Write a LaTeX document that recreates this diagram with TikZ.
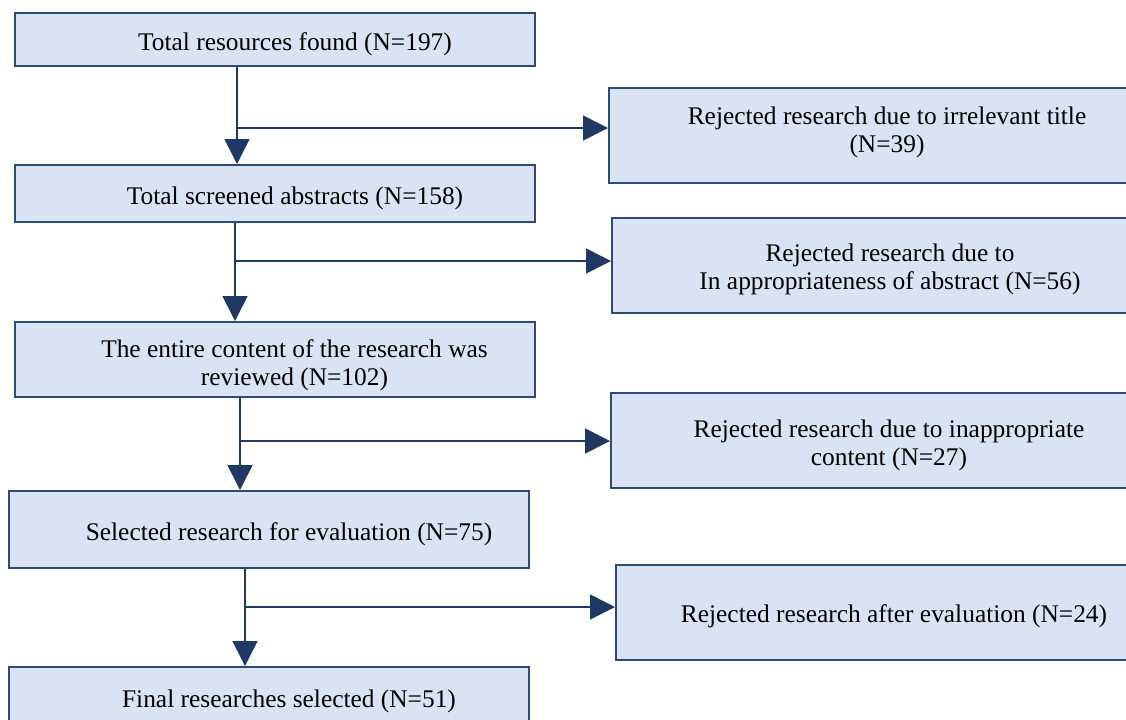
\documentclass[tikz,border=0pt]{standalone}
\usepackage{fontspec}
\setmainfont{Liberation Serif}
\usetikzlibrary{arrows.meta}
\definecolor{boxfill}{HTML}{DAE3F3}
\definecolor{boxline}{HTML}{2F4A78}
\definecolor{navy}{HTML}{1F3864}

\begin{document}
\begin{tikzpicture}[x=0.5pt,y=-0.5pt,
    stage/.style={draw=boxline, line width=1pt, fill=boxfill, align=center,
      font=\fontsize{12.7}{14}\selectfont, inner sep=0pt,
      execute at begin node={\rule{0pt}{13.5pt}}},
    mainstage/.style={stage, minimum width=260pt,
      execute at begin node={\rule{0pt}{13.5pt}\hspace*{20pt}}},
    reject/.style={stage, minimum width=278pt, minimum height=47.5pt},
    flow/.style={draw=navy, line width=0.8pt, -{Triangle[length=12.5pt,width=12.5pt]}}]
  \useasboundingbox (0,0) rectangle (1126,719);
  \clip (0,0) rectangle (1126,719);
  % main column
  \node[mainstage, minimum height=26.5pt] (found) at (275,39.5) {Total resources found (N=197)};
  \node[mainstage, minimum height=28.5pt] (screened) at (275,193.5) {Total screened abstracts (N=158)};
  \node[mainstage, minimum height=37.5pt] (reviewed) at (274.5,359.5) {\rule{0pt}{15pt}The entire content of the research was\\reviewed (N=102)};
  \node[mainstage, minimum height=38.5pt] (selected) at (269,529.5) {Selected research for evaluation (N=75)};
  \node[mainstage, minimum height=30pt] (final) at (269,697) {Final researches selected (N=51)};
  % rejected column
  \node[reject] (rejtitle) at (887,135.5) {Rejected research due to irrelevant title\\(N=39)\\[-8.5pt]};
  \node[reject] (rejabs) at (890,265) {\rule{0pt}{13pt}Rejected research due to\\In appropriateness of abstract (N=56)};
  \node[reject] (rejcont) at (889,440.5) {\rule{0pt}{14pt}Rejected research due to inappropriate\\content (N=27)};
  \node[reject] (rejeval) at (894,612) {Rejected research after evaluation (N=24)};
  % branch points
  \coordinate (j1) at (237,128);
  \coordinate (j2) at (235,261);
  \coordinate (j3) at (240,441);
  \coordinate (j4) at (245,607);
  \draw[flow] (found.south -| j1) -- (screened.north -| j1);
  \draw[flow] (j1) -- (rejtitle.west |- j1);
  \draw[flow] (screened.south -| j2) -- (reviewed.north -| j2);
  \draw[flow] (j2) -- (rejabs.west |- j2);
  \draw[flow] (reviewed.south -| j3) -- (selected.north -| j3);
  \draw[flow] (j3) -- (rejcont.west |- j3);
  \draw[flow] (selected.south -| j4) -- (final.north -| j4);
  \draw[flow] (j4) -- (rejeval.west |- j4);
\end{tikzpicture}
\end{document}
